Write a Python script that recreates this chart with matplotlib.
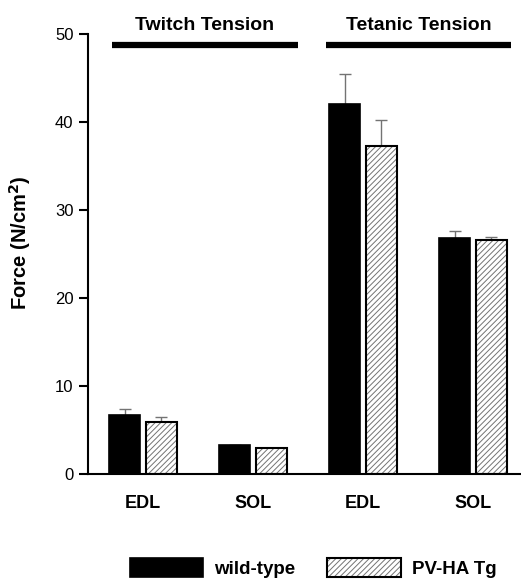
# twitch and tetanic force, wild-type vs PV-HA Tg

import numpy as np
import matplotlib.pyplot as plt
from matplotlib.patches import Patch

plt.rcParams['font.family'] = ['Liberation Sans', 'DejaVu Sans']
plt.rcParams['hatch.linewidth'] = 0.7

muscles = ['EDL', 'SOL', 'EDL', 'SOL']
wt_force = [6.7, 3.3, 42.1, 26.8]
wt_err = [0.7, 0.0, 3.3, 0.8]
tg_force = [5.9, 2.95, 37.3, 26.6]
tg_err = [0.6, 0.0, 2.9, 0.3]

groups = ['Twitch Tension', 'Tetanic Tension']

x = np.arange(len(muscles))
w = 0.28
off = 0.165
hatch_col = '0.45'

fig = plt.figure(figsize=(5.21, 5.81), dpi=100)
ax = fig.add_axes([0.1689, 0.1842, 0.8311, 0.7573])

# error bars first so the bars sit on top
ax.errorbar(x - off, wt_force, yerr=[np.zeros(4), wt_err], fmt='none',
            ecolor='0.45', elinewidth=1, capsize=4, capthick=1, zorder=1)
ax.errorbar(x + off, tg_force, yerr=[np.zeros(4), tg_err], fmt='none',
            ecolor='0.45', elinewidth=1, capsize=4, capthick=1, zorder=1)

ax.bar(x - off, wt_force, w, color='black', edgecolor='black', lw=1.2, zorder=2)
# hatch colour follows edgecolor, so hatch layer + black outline layer
ax.bar(x + off, tg_force, w, color='white', edgecolor=hatch_col, lw=0,
       hatch='//////', zorder=2)
ax.bar(x + off, tg_force, w, fill=False, edgecolor='black', lw=1.5, zorder=3)

ax.set_xlim(-0.5, 3.436)
ax.set_ylim(0, 50)
ax.set_yticks([0, 10, 20, 30, 40, 50])
ax.set_xticks(x)
ax.set_xticklabels(muscles, fontsize=13, fontweight='bold')
ax.tick_params(axis='x', length=0, pad=15)
ax.tick_params(axis='y', length=6.5, width=1.5, labelsize=12, pad=4)
ax.spines['top'].set_visible(False)
ax.spines['right'].set_visible(False)
ax.spines['left'].set_linewidth(1.5)
ax.spines['bottom'].set_linewidth(1.5)
ax.set_ylabel('Force (N/cm$^\\mathbf{2}$)', fontsize=14.5, fontweight='bold')
ax.yaxis.set_label_coords(-0.127, 0.525)

# group headers
spans = [(-0.282, 1.41), (1.664, 3.345)]
for name, (a, b) in zip(groups, spans):
    ax.plot([a, b], [48.75, 48.75], color='black', lw=4.5, solid_capstyle='butt', clip_on=False)
    ax.text((a + b) / 2, 51.0, name, ha='center', va='center', fontsize=14,
            fontweight='bold', clip_on=False)

handles = [Patch(facecolor='black', edgecolor='black', lw=1.2),
           (Patch(facecolor='white', edgecolor=hatch_col, lw=0, hatch='//////'),
            Patch(fill=False, edgecolor='black', lw=1.5))]
leg = fig.legend(handles, ['wild-type', 'PV-HA Tg'], loc='center left',
                 bbox_to_anchor=(130 / 521, 0.0224), ncol=2, frameon=False,
                 handlelength=3.9, handleheight=1.15, handletextpad=0.6,
                 columnspacing=1.7, borderpad=0, borderaxespad=0,
                 prop={'size': 13.5, 'weight': 'bold'})

fig.savefig('out.png', dpi=100)
